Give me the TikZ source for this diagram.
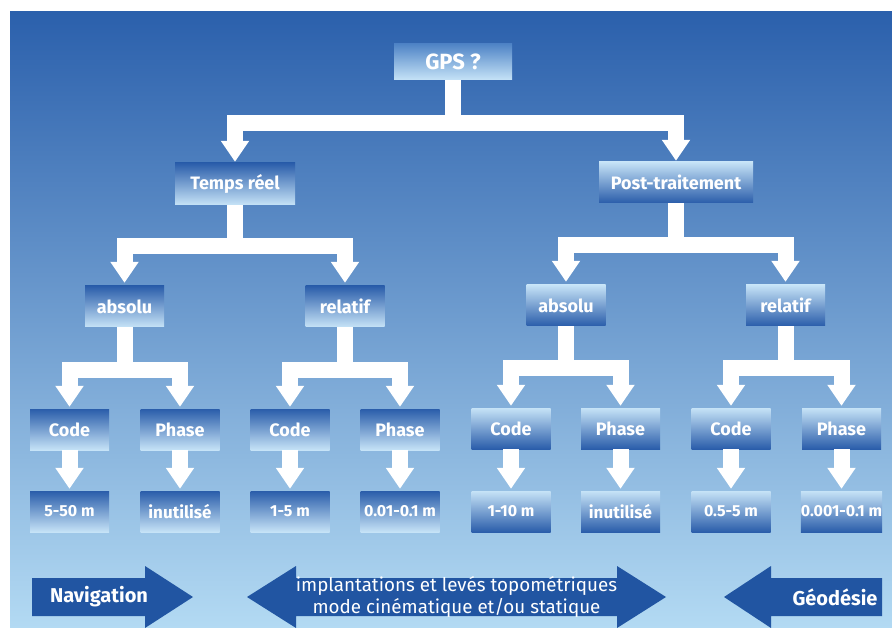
\documentclass[tikz,border=0pt]{standalone}
\usepackage{fontspec}
\setmainfont{Fira Sans}
\usetikzlibrary{arrows.meta}
\definecolor{dk}{HTML}{2A5DAA}
\definecolor{lt}{HTML}{C6E3F7}
\definecolor{gpstop}{HTML}{4F84C6}
\definecolor{bgtop}{HTML}{2B60AC}
\definecolor{bgmid}{HTML}{5A91D0}
\definecolor{bgbot}{HTML}{B3DAF3}
\definecolor{arrblue}{HTML}{2155A2}
\tikzset{
  box/.style={rectangle, inner sep=0pt, text=white, font=\bfseries\fontsize{18}{18}\selectfont, minimum height=41pt, minimum width=79pt},
  num/.style={font=\bfseries\fontsize{16}{16}\selectfont},
  lbox/.style={box, top color=dk, bottom color=lt},
  rbox/.style={box, top color=lt, bottom color=dk},
  conn/.style={draw=white, line width=16pt, line join=miter, -{Triangle[length=21pt,width=27pt]}},
  bigarrow/.style={fill=arrblue},
  btxt/.style={text=white, font=\bfseries\fontsize{20}{20}\selectfont, inner sep=0pt},
  mtxt/.style={text=white, font=\fontsize{18.8}{21.5}\selectfont, align=center, inner sep=0pt},
}
\begin{document}
\begin{tikzpicture}[x=1pt,y=-1pt]
\useasboundingbox (0,0) rectangle (892,628);
\fill[white] (0,0) rectangle (892,628);
\shade[top color=bgtop, middle color=bgmid, bottom color=bgbot] (10,12) rectangle (892,628);

% boxes
\node[box, top color=gpstop, bottom color=lt, minimum width=118pt, minimum height=36pt, font=\bfseries\fontsize{22}{22}\selectfont] (gps) at (453,62) {GPS ?};
\node[lbox, minimum width=120pt, minimum height=42pt] (tr) at (235,184) {Temps réel};
\node[rbox, minimum width=154pt] (pt) at (676,182.5) {Post-traitement};

\node[lbox] (a1) at (124.5,306.5) {absolu};
\node[lbox] (r1) at (345,306.5) {relatif};
\node[rbox] (a2) at (566,305.5) {absolu};
\node[rbox] (r2) at (785.5,305.5) {relatif};

\node[lbox] (c1) at (69.5,429.5) {Code};
\node[lbox] (p1) at (180,429.5) {Phase};
\node[lbox] (c2) at (290,429.5) {Code};
\node[lbox] (p2) at (400,429.5) {Phase};
\node[rbox] (c3) at (511,428.5) {Code};
\node[rbox] (p3) at (620.5,428.5) {Phase};
\node[rbox] (c4) at (731,428.5) {Code};
\node[rbox] (p4) at (841.5,428.5) {Phase};

\node[lbox, num] (v1) at (69.5,511.5) {5-50 m};
\node[lbox, font=\bfseries\fontsize{17}{17}\selectfont] (w1) at (180,511.5) {inutilisé};
\node[lbox, num] (v2) at (290,511.5) {1-5 m};
\node[lbox, num] (w2) at (400,511.5) {0.01-0.1 m};
\node[rbox, num] (v3) at (511,511.5) {1-10 m};
\node[rbox, font=\bfseries\fontsize{17}{17}\selectfont] (w3) at (620.5,511.5) {inutilisé};
\node[rbox, num] (v4) at (731,511.5) {0.5-5 m};
\node[rbox, num] (w4) at (841.5,511.5) {0.001-0.1 m};

% connectors
\draw[conn, shorten >=1pt] (gps.south) -- ++(0,42.5) -| (tr.north);
\draw[conn, shorten >=1pt] (gps.south) -- ++(0,42.5) -| (pt.north);
\draw[conn, shorten >=3pt] (tr.south) -- ++(0,40.5) -| (a1.north);
\draw[conn, shorten >=3pt] (tr.south) -- ++(0,40.5) -| (r1.north);
\draw[conn, shorten >=3pt] (pt.south) -- ++(0,41.5) -| (a2.north);
\draw[conn, shorten >=3pt] (pt.south) -- ++(0,41.5) -| (r2.north);
\draw[conn, shorten >=2pt] (a1.south) -- ++(0,42.5) -| (c1.north);
\draw[conn, shorten >=2pt] (a1.south) -- ++(0,42.5) -| (p1.north);
\draw[conn, shorten >=2pt] (r1.south) -- ++(0,42.5) -| (c2.north);
\draw[conn, shorten >=2pt] (r1.south) -- ++(0,42.5) -| (p2.north);
\draw[conn, shorten >=2pt] (a2.south) -- ++(0,41.5) -| (c3.north);
\draw[conn, shorten >=2pt] (a2.south) -- ++(0,41.5) -| (p3.north);
\draw[conn, shorten >=2pt] (r2.south) -- ++(0,41.5) -| (c4.north);
\draw[conn, shorten >=2pt] (r2.south) -- ++(0,41.5) -| (p4.north);
\foreach \a/\b in {c1/v1,p1/w1,c2/v2,p2/w2,c3/v3,p3/w3,c4/v4,p4/w4}
  \draw[conn, shorten >=2pt] (\a.south) -- (\b.north);

% bottom arrows
\fill[bigarrow] (32,578) -- (145,578) -- (145,566) -- (193,597) -- (145,628) -- (145,616) -- (32,616) -- cycle;
\fill[bigarrow] (247,597) -- (296,566) -- (296,578) -- (617,578) -- (617,566) -- (666,597) -- (617,628) -- (617,616) -- (296,616) -- (296,628) -- cycle;
\fill[bigarrow] (724,597) -- (771,566) -- (771,578) -- (882,578) -- (882,616) -- (771,616) -- (771,628) -- cycle;
\node[btxt] (nav) at (99,597) {Navigation};
\node[mtxt] (imp) at (456.5,597) {implantations et levés topométriques\\mode cinématique et/ou statique};
\node[btxt] (geo) at (835,597) {Géodésie};
\end{tikzpicture}
\end{document}
